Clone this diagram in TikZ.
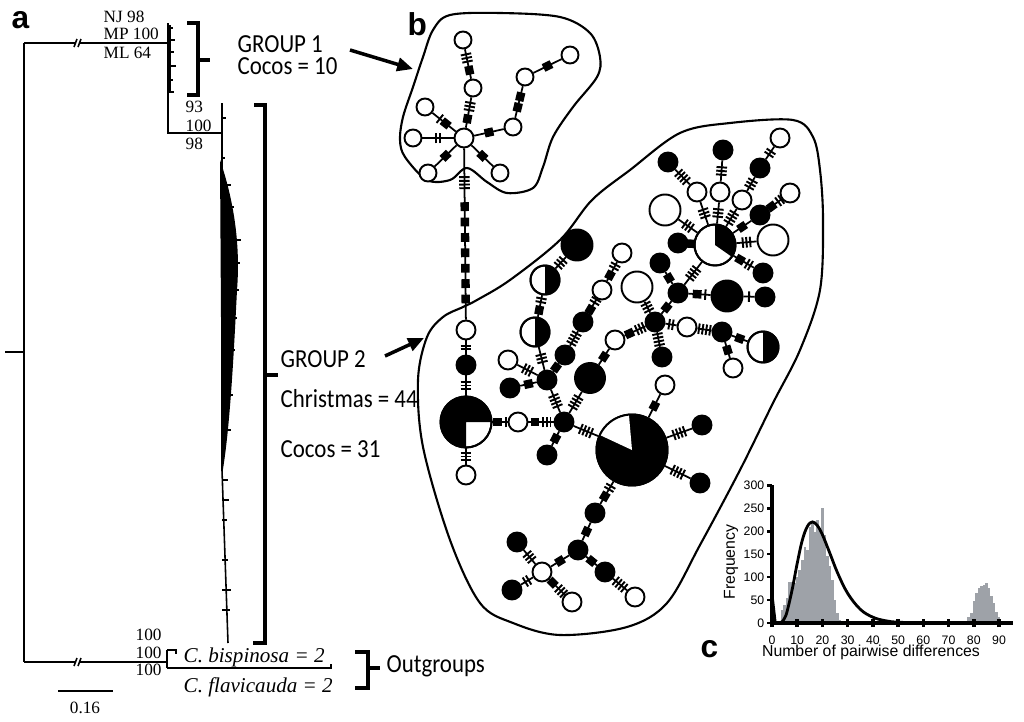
\documentclass[tikz,border=0pt]{standalone}
\usepackage{fontspec}
\setmainfont{Liberation Serif}
\setsansfont{Liberation Sans}
\newfontfamily\lblfont[FakeStretch=0.88]{Carlito}
\usetikzlibrary{arrows.meta}

% mutation marks on the network edges
\newcommand\tb{\rule[-1.5pt]{0.55pt}{3pt}}
\newcommand\tks[1]{\tb\foreach\i in {2,...,#1}{\kern.5pt\tb}}
\newcommand\sq{\rule[-1.2pt]{2.5pt}{2.4pt}}
% pie sector over a circle node
\newcommand\pieseg[5]{\fill[#5] (#1.center) -- ++(#2:#4) arc[start angle=#2, end angle=#3, radius=#4] -- cycle;
  \draw[line width=.55pt] (#1.center) circle[radius=#4];}

\definecolor{barc}{RGB}{158,162,168}

\tikzset{
  wh/.style={circle, draw, fill=white, line width=.55pt, minimum size=.19cm, inner sep=0pt},
  bk/.style={circle, draw, fill=black, line width=.55pt, minimum size=.19cm, inner sep=0pt},
  mk/.style={sloped, inner sep=0pt, outer sep=0pt},
  ln/.style={line width=.5pt},
  br/.style={line width=.45pt},
  brk/.style={line width=1.2pt},
  blob/.style={line width=.6pt},
  tnum/.style={font=\fontsize{4.9}{5}\selectfont, inner sep=0pt},
  spc/.style={font=\itshape\fontsize{6}{6}\selectfont, inner sep=0pt},
  grp/.style={font=\lblfont\fontsize{7.4}{8}\selectfont, inner sep=0pt},
  panel/.style={font=\sffamily\bfseries\fontsize{9}{9}\selectfont, inner sep=0pt},
  tkl/.style={font=\sffamily\fontsize{3.5}{4}\selectfont, inner sep=0pt},
  axl/.style={font=\sffamily\fontsize{4.5}{5}\selectfont, inner sep=0pt},
  arr/.style={line width=1pt, -{Triangle[length=4.5pt,width=3.8pt]}}
}

\begin{document}
\begin{tikzpicture}[x=0.01cm,y=0.01cm]
\useasboundingbox (0,0) rectangle (1024,-721);

% ---------- a: tree ----------
\node[panel, anchor=base west] (la) at (11,-28) {a};
\draw[br] (5,-352) -- (24,-352);
\draw[br] (24,-43) -- (24,-662);
\draw[br] (24,-43) -- (168,-43);
\draw[br] (24,-662) -- (167,-662);
\foreach \y in {-43,-662} {
  \fill[white] (76,\y-3) rectangle (80,\y+3);
  \draw[br] (74,\y-4) -- (77,\y+4) (78,\y-4) -- (81,\y+4);
}
% group 1 clade
\draw[br] (168,-23) -- (168,-133) -- (222,-133);
\fill (167,-25) rectangle (171,-92);
\foreach \y/\l in {28/173,40/175,52/174,66/176,80/173,92/174} \draw[br] (169,-\y) -- (\l,-\y);
% group 2 clade
\draw[br] (222,-103) -- (222,-470) -- (228,-643);
\fill (220,-160) .. controls (232,-195) and (241,-240) .. (237,-290) .. controls (234,-350) and (230,-430) .. (222,-475) -- cycle;
\foreach \y/\l in {118/226,158/225,185/231,207/234,240/241,263/240,290/239,318/237,350/235,395/233,430/231,480/228,500/229,520/227,560/228,590/231,610/230} \draw[br] (222,-\y) -- (\l,-\y);
% outgroups
\draw[br] (167,-650) -- (167,-668);
\draw[br] (167,-650) -- (176,-650) -- (176,-654);
\draw[br] (167,-668) -- (331,-668) -- (331,-664);
% scale bar
\draw[br] (58,-691) -- (113,-691);
\node[tnum, anchor=base] (sc) at (85,-713) {0.16};

% support values
\node[tnum, anchor=base west] (nj) at (103,-22) {NJ 98};
\node[tnum, anchor=base west] (mp) at (103,-40) {MP 100};
\node[tnum, anchor=base west] (ml) at (103,-58) {ML 64};
\node[tnum, anchor=base west] (s1) at (185,-112) {93};
\node[tnum, anchor=base west] (s2) at (185,-131) {100};
\node[tnum, anchor=base west] (s3) at (185,-149) {98};
\node[tnum, anchor=base west] (o1) at (135,-640) {100};
\node[tnum, anchor=base west] (o2) at (135,-658) {100};
\node[tnum, anchor=base west] (o3) at (135,-675) {100};
\node[spc, anchor=base west] (bis) at (183,-662) {C. bispinosa = 2};
\node[spc, anchor=base west] (fla) at (183,-692) {C. flavicauda = 2};

% brackets and group labels
\draw[brk] (187,-23) -- (198,-23) -- (198,-95) -- (187,-95) (198,-60) -- (210,-60);
\draw[brk] (254,-105) -- (265,-105) -- (265,-643) -- (253,-643) (265,-375) -- (278,-375);
\draw[brk] (355,-652) -- (368,-652) -- (368,-688) -- (355,-688) (368,-668) -- (380,-668);
\node[grp, anchor=base west] (gr1) at (237,-52) {GROUP 1};
\node[grp, anchor=base west] (co1) at (237,-74) {Cocos = 10};
\node[grp, anchor=base west] (gr2) at (280,-367) {GROUP 2};
\node[grp, anchor=base west] (chr) at (280,-407) {Christmas = 44};
\node[grp, anchor=base west] (co2) at (280,-457) {Cocos = 31};
\node[grp, anchor=base west] (out) at (386,-672) {Outgroups};
\coordinate (p1s) at (350,-50);
\coordinate (p1e) at (413,-69);
\coordinate (p2s) at (385,-356);
\coordinate (p2e) at (424,-338);
\draw[arr] (p1s) -- (p1e);
\draw[arr] (p2s) -- (p2e);

% ---------- b: network ----------
\node[panel, anchor=base west] (lb) at (407,-35) {b};
\draw[blob] plot[smooth cycle, tension=.55] coordinates {(450,-15) (500,-13) (560,-17) (590,-33) (600,-57) (597,-77) (573,-107) (553,-137) (543,-167) (533,-188) (507,-193) (487,-182) (467,-168) (450,-180) (427,-180) (405,-157) (400,-140) (403,-117) (413,-87) (423,-57) (433,-30)};
\draw[blob] plot[smooth cycle, tension=.55] coordinates {(443,-317) (463,-307) (477,-300) (510,-280) (560,-240) (592,-200) (630,-170) (680,-133) (730,-123) (793,-120) (813,-137) (820,-170) (823,-220) (820,-290) (800,-350) (773,-403) (740,-470) (700,-545) (667,-603) (627,-627) (560,-635) (513,-623) (480,-603) (450,-540) (423,-447) (418,-380) (427,-337)};

% group 1 haplotypes
\node[wh] (g0) at (464,-138) {};
\foreach \n/\x/\y in {g1/473/88, g2/463/40, g3/513/127, g4/525/77, g5/570/55, g6/425/107, g7/413/138, g8/428/173, g9/500/173}
  \node[wh, minimum size=.17cm] (\n) at (\x,-\y) {};

% group 2 haplotypes
\foreach \n/\x/\y in {a1/466/330, a3/466/475, a4/518/422, c3/508/360, c7/602/290, c8/622/253, c9/615/340, d1/687/327, d3/733/368,
  e1/720/192, e3/697/192, e5/742/200, e7/780/138, e9/790/193, f1/665/385, f6/542/572, f9/572/602, f11/635/597}
  \node[wh] (\n) at (\x,-\y) {};
\foreach \n/\x/\y in {a2/466/365, c0/564/422, c1/547/455, c2/547/380, c4/510/388, c5/565/355, c6/583/322, d0/655/322, d2/722/332,
  d4/662/357, d5/678/293, d6/660/263, d7/765/297, e2/723/150, e4/668/162, e6/760/168, e8/760/215, e10/763/273, e11/678/243,
  f2/702/425, f3/700/483, f4/595/513, f5/578/550, f7/517/542, f8/512/590, f10/605/572}
  \node[bk] (\n) at (\x,-\y) {};
\node[bk, minimum size=.31cm] (B1) at (577,-245) {};
\node[bk, minimum size=.30cm] (B2) at (590,-378) {};
\node[bk, minimum size=.31cm] (B3) at (727,-296) {};
\node[wh, minimum size=.31cm] (W1) at (637,-287) {};
\node[wh, minimum size=.31cm] (W2) at (773,-240) {};
\node[wh, minimum size=.31cm] (W3) at (665,-210) {};
\node[wh, minimum size=.29cm] (h1) at (535,-332) {};
\node[wh, minimum size=.29cm] (h2) at (545,-280) {};
\node[wh, minimum size=.31cm] (H3) at (763,-347) {};
\node[wh, minimum size=.51cm] (P1) at (466,-422) {};
\node[wh, minimum size=.41cm] (P2) at (715,-245) {};
\node[bk, minimum size=.71cm] (P3) at (632,-450) {};
\pieseg{P1}{0}{270}{25.5}{black}
\pieseg{h1}{-90}{90}{14.5}{black}
\pieseg{h2}{-90}{90}{14.5}{black}
\pieseg{H3}{-90}{90}{15.5}{black}
\pieseg{P2}{-35}{90}{20.5}{black}
\pieseg{P3}{95}{155}{35.5}{white}

% links between the two groups
\draw[ln] (g0) -- (a1);
\path (g0) -- (a1) node[mk, pos=.2] {\tks4};
\foreach \p in {.34,.43,.52,.61,.70,.79,.88}
  \path (g0) -- (a1) node[mk, pos=\p] {\sq};

% edges with their mutation marks
\foreach \u/\v/\m in {g0/g1/{\sq\kern1pt\tks3}, g1/g2/{\tks3\kern1pt\sq}, g0/g3/{\sq}, g3/g4/{\sq\kern.6pt\sq}, g4/g5/{\sq},
  g0/g6/{\tb\kern.6pt\sq}, g0/g7/{\tks2}, g0/g8/{\sq}, g0/g9/{\sq},
  a1/a2/{\tks2}, a2/P1/{\tks3}, P1/a3/{\tks3}, P1/a4/{\sq\kern.8pt\tb}, a4/c0/{\sq\kern.8pt\tks3},
  c0/c1/{\sq}, c0/c2/{\tks4}, c0/B2/{\tks4}, c0/P3/{\tks4}, c2/c3/{\tks3}, c2/c4/{\sq}, c2/h1/{\tks3},
  h1/h2/{\sq\kern.8pt\tks2}, h2/B1/{\tks3}, c2/c5/{\sq}, c5/c6/{\tks4}, c6/c7/{\sq\kern.8pt\tks2}, c7/c8/{\sq\kern.8pt\tks2},
  B2/c9/{\sq}, c9/d0/{\sq\kern.8pt\tks3}, d0/W1/{\tks3}, d0/d5/{\sq}, d0/d1/{\tks2}, d1/d2/{\tks4}, d2/H3/{\sq}, d2/d3/{\sq},
  d0/d4/{\tks4}, d5/d6/{\sq}, d5/B3/{\sq\kern.8pt\tb}, B3/d7/{\tb}, d5/P2/{\tks4},
  P2/e1/{\tks3}, e1/e2/{\tks3}, P2/e3/{\tks3}, e3/e4/{\tks4}, P2/e5/{\tks4}, e5/e6/{\tks3}, e6/e7/{\tks2},
  P2/e8/{\sq}, e8/e9/{\sq\kern.8pt\tks2}, P2/W2/{\tks3}, P2/e10/{\sq\kern.8pt\tks2}, P2/e11/{\sq}, P2/W3/{\tks3},
  P3/f1/{\sq}, P3/f2/{\tks4}, P3/f3/{\tks4}, P3/f4/{\sq\kern.8pt\tks2}, f4/f5/{\sq}, f5/f6/{\sq}, f5/f10/{\sq},
  f10/f11/{\tks4}, f6/f7/{\tks3}, f6/f8/{\tks2}, f6/f9/{\sq\kern.8pt\tks3}}
  \draw[ln] (\u) -- node[mk] {\m} (\v);

% ---------- c: mismatch distribution ----------
\node[panel, anchor=base west] (lc) at (700,-657) {c};
\begin{scope}[shift={(772,-623)}, x=0.0252cm, y=0.0046cm]
  \foreach \v/\f in {0/60,3/5,4/29,5/40,6/54,7/90,8/90,9/87,10/101,11/116,12/137,13/166,14/159,15/210,16/217,17/199,
    18/224,19/206,20/250,21/192,22/145,23/123,24/94,25/51,26/22,27/7,78/14,79/22,80/47,81/65,82/76,83/80,84/83,85/87,
    86/76,87/58,88/43,89/25,90/14,91/4}
    \fill[barc] (\v-.5,0) rectangle (\v+.5,\f);
  \draw[line width=.8pt] (0,62) -- (1.3,0) -- (2,0);
  \draw[line width=.8pt] plot[smooth, tension=.6] coordinates {(2,0) (3,.2) (4,2.8) (5,10.8) (6,25.5) (8,73) (10,130) (12,180)
    (14,210) (16,220) (18,212) (20,192) (23,151) (26,109) (30,64.5) (35,29.8) (40,12.6) (45,4.9) (50,1.8) (60,.2) (70,0)};
  \draw[line width=1pt] (0,300) -- (0,0) -- (95.6,0);
  \foreach \f in {0,50,...,300} {
    \draw[line width=.8pt] (-1.8,\f) -- (0,\f);
    \node[tkl, anchor=east] (yl\f) at (-2.8,\f) {\f};
  }
  \foreach \v in {0,10,...,90} {
    \draw[line width=1pt] (\v,-9) -- (\v,8);
    \node[tkl, anchor=north] (xl\v) at (\v,-27) {\v};
  }
\end{scope}
\node[axl, anchor=base] (xt) at (871,-656) {Number of pairwise differences};
\node[axl, rotate=90] (yt) at (731,-562) {Frequency};
\end{tikzpicture}
\end{document}
